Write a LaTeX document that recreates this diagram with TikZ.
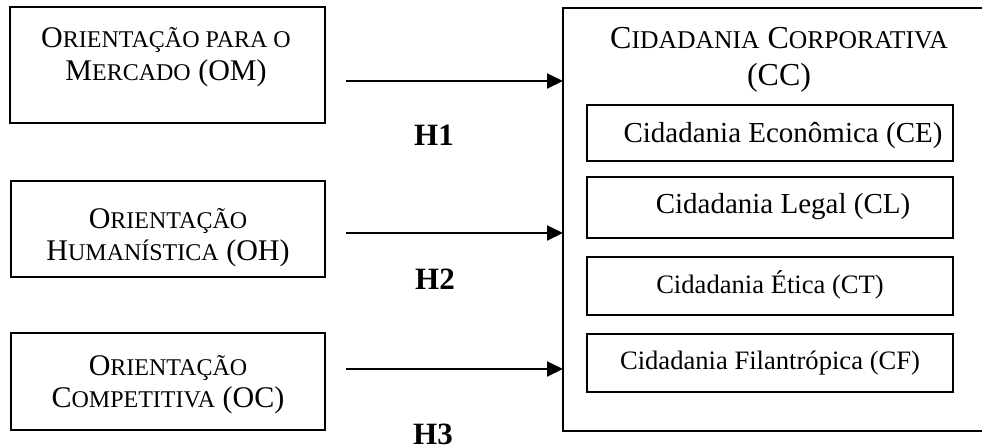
\documentclass[tikz,border=0pt]{standalone}
\usepackage{fontspec}
\setmainfont{Liberation Serif}
\usetikzlibrary{arrows.meta}
\newcommand{\smc}[1]{{\fontsize{12}{16}\selectfont #1}}
\newcommand{\smct}[1]{{\fontsize{12.8}{18.5}\selectfont #1}}
\begin{document}
\begin{tikzpicture}[x=0.5pt,y=-0.5pt,
  box/.style={draw, line width=1.25pt, inner sep=0pt, outer sep=0pt},
  bigline/.style={draw, line width=1pt},
  lbl/.style={inner sep=0pt, anchor=base, font=\fontsize{15}{16}\selectfont},
  ttl/.style={inner sep=0pt, anchor=base, font=\fontsize{16}{18.5}\selectfont},
  sub/.style={box, minimum width=183pt},
  subA/.style={inner sep=0pt, anchor=base, font=\fontsize{14.5}{17}\selectfont},
  subB/.style={inner sep=0pt, anchor=base, font=\fontsize{13.3}{16}\selectfont},
  hyp/.style={inner sep=0pt, anchor=base, font=\bfseries\fontsize{15.5}{18}\selectfont},
  arr/.style={line width=1pt, -{Triangle[length=8pt,width=7.5pt]}}
]
\path[fill=white, use as bounding box] (0,0) rectangle (982,446);

% left boxes
\node[box, minimum width=157.5pt, minimum height=58pt] (om) at (167.5,65) {};
\node[lbl] (omt) at (166,47) {\begin{tabular}[t]{@{}c@{}}O\smc{RIENTAÇÃO PARA O}\\[0.5pt] M\smc{ERCADO} (OM)\end{tabular}};

\node[box, minimum width=157pt, minimum height=48pt] (oh) at (168,229) {};
\node[lbl] (oht) at (168,228) {\begin{tabular}[t]{@{}c@{}}O\smc{RIENTAÇÃO}\\ H\smc{UMANÍSTICA} (OH)\end{tabular}};

\node[box, minimum width=157pt, minimum height=48.5pt] (oc) at (168,381.5) {};
\node[lbl] (oct) at (168,375) {\begin{tabular}[t]{@{}c@{}}O\smc{RIENTAÇÃO}\\ C\smc{OMPETITIVA} (OC)\end{tabular}};

% big box: its right side lies beyond the picture's edge
\coordinate (ccnw) at (563,8);
\coordinate (ccsw) at (563,431);
\coordinate (ccne) at (982,8);
\coordinate (ccse) at (982,431);
\draw[bigline] (ccne) -- (ccnw) -- (ccsw) -- (ccse);
\node[ttl] (cct) at (779,48) {\begin{tabular}[t]{@{}c@{}}C\smct{IDADANIA} C\smct{ORPORATIVA}\\ (CC)\end{tabular}};

% inner boxes
\node[sub, minimum height=28pt] (ce) at (770,133) {};
\node[subA] (cet) at (783,142) {Cidadania Econômica (CE)};
\node[sub, minimum height=30.5pt] (cl) at (770,207.5) {};
\node[subA] (clt) at (783,213) {Cidadania Legal (CL)};
\node[sub, minimum height=29pt] (ct) at (770,286) {};
\node[subB] (ctt) at (770,293) {Cidadania Ética (CT)};
\node[sub, minimum height=29pt] (cf) at (770,363) {};
\node[subB] (cft) at (770,369) {Cidadania Filantrópica (CF)};

% arrows
\coordinate (s1) at (346,81);
\coordinate (s2) at (346,233);
\coordinate (s3) at (346,369);
\draw[arr] (s1) -- (s1 -| ccnw);
\draw[arr] (s2) -- (s2 -| ccnw);
\draw[arr] (s3) -- (s3 -| ccnw);

% hypothesis labels
\node[hyp] (h1) at (434,145) {H1};
\node[hyp] (h2) at (435,289) {H2};
\node[hyp] (h3) at (433,444) {H3};
\end{tikzpicture}
\end{document}
